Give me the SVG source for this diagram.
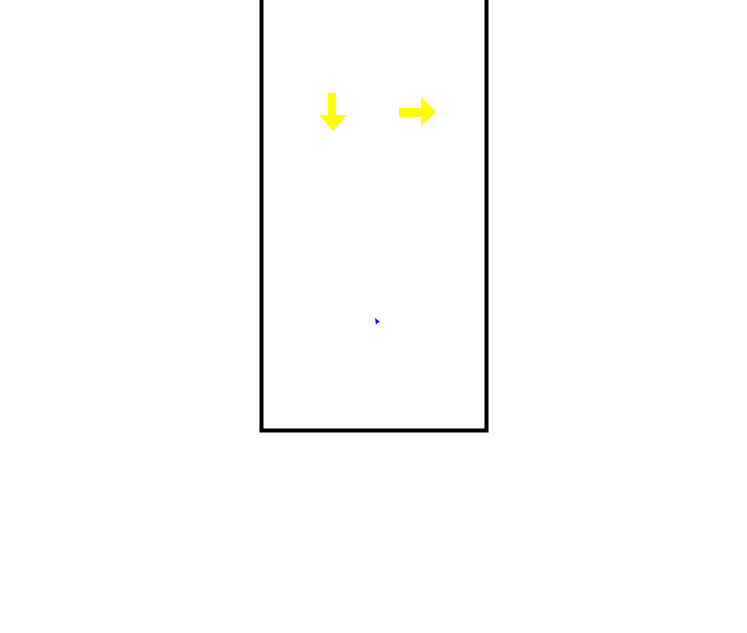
<svg xmlns="http://www.w3.org/2000/svg" width="747" height="633" viewBox="0 0 747 633">
<style>
.frame{fill:none;stroke:#000;stroke-width:4}
.arrow{fill:#ffff00}
</style>
<rect width="747" height="633" fill="#fff"/>
<g id="frame">
<path class="frame" d="M261.5,0 V430.5 H486.5 V0"/>
</g>
<g id="arrow-down">
<polygon class="arrow" points="328,93 336,93 336,115 347,115 333,131 319,115 328,115"/>
</g>
<g id="arrow-right">
<polygon class="arrow" points="399,108 421,108 421,97 436,112 421,126 421,117 399,117"/>
</g>
<g id="cursor">
<polygon fill="#0000ee" points="375,318 380,322 377,323 376,325"/>
</g>
<g id="connectors"></g>
</svg>
